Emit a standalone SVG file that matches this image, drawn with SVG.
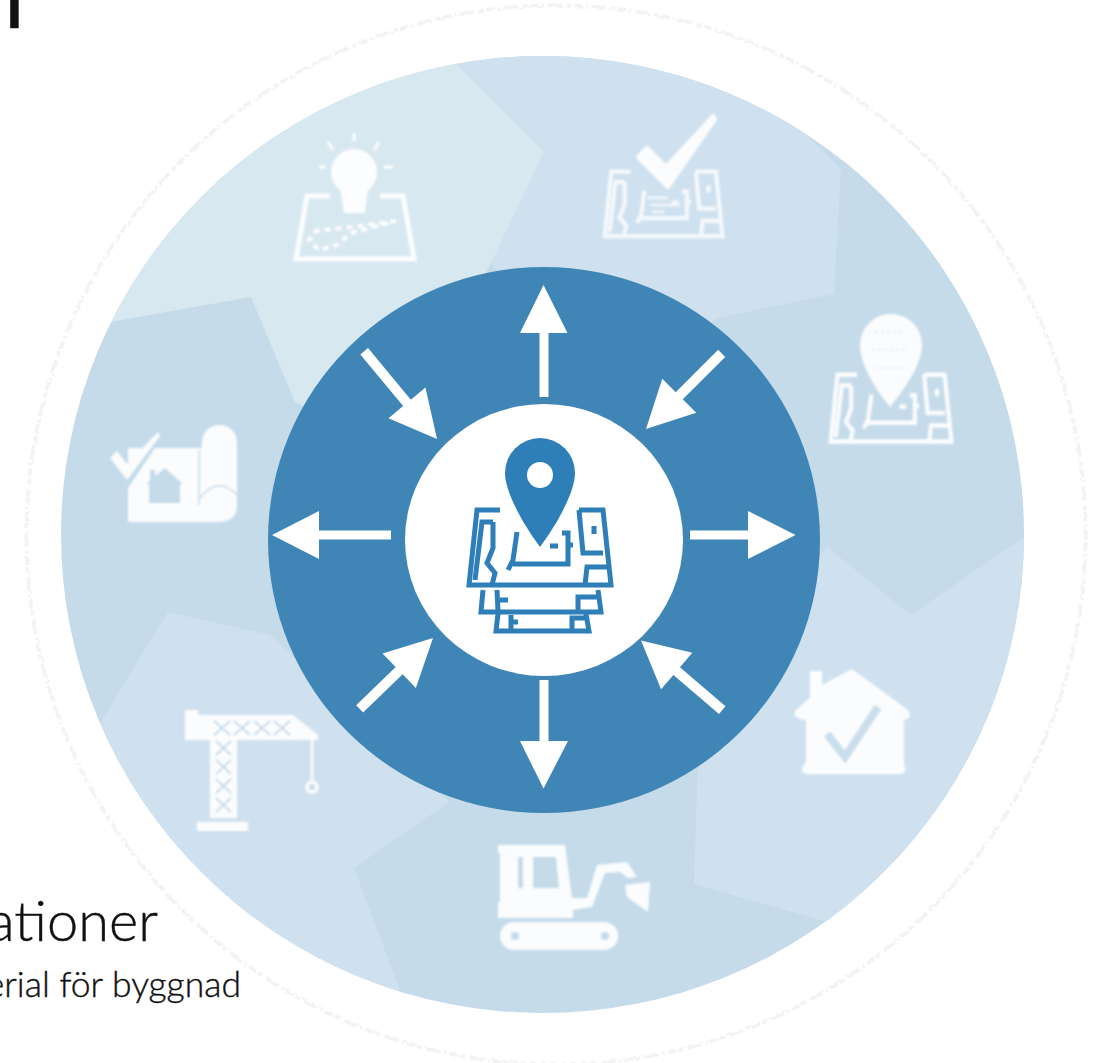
<svg xmlns="http://www.w3.org/2000/svg" width="1100" height="1063" viewBox="0 0 1100 1063">
<style>
.w{fill:#fff}
.ws{fill:none;stroke:#fff;stroke-width:5;stroke-linejoin:miter}
.plan{fill:none;stroke:currentColor;stroke-width:5}
.ar{fill:#fff}
.t{font-family:"Lato","Noto Sans","Liberation Sans",sans-serif;fill:#111;stroke:#111;stroke-width:.4}
.lat{stroke:#c4dbea;stroke-width:2;fill:none}
.sep{fill:none;stroke:#c5dbea;stroke-width:1.5}
.soft{filter:url(#soft);opacity:.93}
</style>
<defs>
<filter id="soft" x="-5%" y="-5%" width="110%" height="110%"><feGaussianBlur stdDeviation=".9"/></filter>
<filter id="softer" x="-5%" y="-5%" width="110%" height="110%"><feGaussianBlur stdDeviation=".4"/></filter>
<clipPath id="disc"><ellipse cx="542.5" cy="534.5" rx="481.500" ry="478.500"/></clipPath>
<g id="plan" class="plan">
<path d="M33 2H10L2 77H144L136 2H112"/>
<path d="M26 14H15L8 72M26 14V40L20 55L28 65L25 77"/>
<path d="M50 24L46 52L41 62M46 56H101V25H95"/>
<path d="M112 2L116 45H136M118 77L120 59H140M83 38H91M101 37H106M127 18V26"/>
</g>
</defs>
<rect width="1100" height="1063" fill="#fff"/>
<g id="outer-ring" fill="none" stroke="#f3f3f0">
<circle cx="556" cy="535" r="530" stroke-width="3" stroke-dasharray="5 2 9 3 2 4 14 5"/>
<circle cx="556" cy="535" r="528" stroke-width="1.5" stroke-dasharray="3 6 7 4"/>
</g>
<g id="wheel" filter="url(#softer)">
<ellipse cx="542.5" cy="534.5" rx="481.500" ry="478.500" fill="#c5dbea"/>
<g clip-path="url(#disc)">
<polygon fill="#cfe1ef" points="440,40 456,64 544,152 491,263 600,400 718,318 834,294 841,169 700,30"/>
<polygon fill="#d8e8f1" points="456,64 544,152 491,263 400,450 295,402 251,297 110,322 30,300 200,30 440,40"/>
<polygon fill="#cfe1ef" points="168,612 270,635 449,802 354,868 400,990 300,1025 40,800 102,720"/>
<polygon fill="#cfe1ef" points="827,547 780,600 700,700 694,884 824,921 1040,1015 1040,528 1024,537 911,615"/>
</g>
</g>
<g id="hub">
<ellipse cx="544" cy="540" rx="276" ry="273" fill="#3f85b6"/>
<ellipse cx="544" cy="540" rx="139" ry="136" fill="#fff"/>
</g>
<g id="connectors" filter="url(#softer)">
<path class="ar" d="M543.500 285L567.500 333H548.500V397H539.500V333H520Z"/>
<path class="ar" d="M272 535L319 511V530.500H391V539.500H319V559Z"/>
<path class="ar" d="M795.500 535L748 511V530.500H690V539.500H748V559Z"/>
<path class="ar" d="M543.500 788.500L568 741H548.500V680H539.500V741H520Z"/>
<path class="ar" transform="translate(437 439) rotate(50.300)" d="M0 0L-47 -24V-5H-114V5H-47V24Z"/>
<path class="ar" transform="translate(646 429) rotate(135)" d="M0 0L-47 -24V-5H-107V5H-47V24Z"/>
<path class="ar" transform="translate(433 638) rotate(-44)" d="M0 0L-47 -24V-5H-102V5H-47V24Z"/>
<path class="ar" transform="translate(641 640.500) rotate(220.600)" d="M0 0L-47 -24V-5H-107V5H-47V24Z"/>
</g>
<g id="center-icon" color="#2d7fb8" filter="url(#softer)">
<g transform="translate(467 508)"><use href="#plan"/></g>
<path class="plan" d="M483 590L481 612H601L598 590M498 614L496 631H589L586 614M578 610V597H597M572 630V618H587M497 590L498 611M500 600H508M511 615V631M511 622H518"/>
<path fill="#2d7fb8" d="M505 473A35 35 0 0 1 575 473C575 490 560 520 540 547C520 520 505 490 505 473Z"/>
<circle cx="540" cy="475" r="13" fill="#fff"/>
</g>
<g id="icon-idea" class="soft">
<path class="ws" d="M330 196H307L296 259H414L403 196H380"/>
<circle class="w" cx="354" cy="172" r="23"/>
<path class="w" d="M340 188H368L365 213H344Z"/>
<path d="M354 133V141M328 142L333 150M379 142L374 150M319 167H326M384 167H393" stroke="#fff" stroke-width="3" fill="none"/>
<path d="M396 221L351 227L316 231L309 240L319 250L337 245L351 233L396 221" stroke="#fff" stroke-width="4" stroke-dasharray="6 5" fill="none"/>
</g>
<g id="icon-check" color="#fff" class="soft">
<g transform="translate(603 170) scale(.83 .86)" opacity=".85"><use href="#plan"/></g>
<path d="M648 198H668M650 205H680M652 212H664" stroke="#fff" stroke-width="3" opacity=".7" fill="none"/>
<polygon class="w" stroke="#fff" stroke-width="4" stroke-linejoin="round" points="713,116 715,119 668,187 638,157 647,148 666,167"/>
</g>
<g id="icon-pin" color="#fff" class="soft">
<g transform="translate(829 373) scale(.85 .89)"><use href="#plan"/></g>
<path class="w" d="M860 345A31 31 0 0 1 922 345C922 362 908 385 890 407C872 385 860 362 860 345Z"/>
<path d="M875 332H905M872 350H908M876 368H904" stroke="#e8eef4" stroke-width="1.500" stroke-dasharray="3 3" fill="none"/>
</g>
<g id="icon-house-check" class="soft">
<path class="w" d="M810 671H822V685L852 669L908 710Q913 718 904 720V765Q908 773 900 774H806Q798 771 806 762V720Q790 718 796 710L810 698Z"/>
<path d="M827 734L845 757L878 707" fill="none" stroke="#c9deec" stroke-width="8"/>
</g>
<g id="icon-excavator" class="soft">
<path class="w" d="M498 845H565L572 898H587L597 865L627 862L637 877L628 878L620 872L605 873L592 907L573 910V918H498V902H500V853H498Z"/>
<path fill="#c5dbea" d="M518 857H523V888H518ZM533 857H556L559 888H533Z"/>
<rect class="w" x="500" y="922" width="118" height="28" rx="14"/>
<circle cx="515" cy="936" r="4" fill="#c5dbea"/><circle cx="605" cy="936" r="4" fill="#c5dbea"/>
<polygon class="w" points="625,885 650,882 648,912 627,897"/>
</g>
<g id="icon-crane" class="soft">
<path class="w" d="M185 710H198V715H293L318 735V740H237V818H210V740H185Z"/>
<rect class="w" x="197" y="822" width="51" height="9"/>
<path class="lat" d="M214 721L230 735M230 721L214 735M234 721L250 735M250 721L234 735M254 721L270 735M270 721L254 735M274 721L290 735M290 721L274 735M216 741L231 755M231 741L216 755M216 760L231 774M231 760L216 774M216 779L231 793M231 779L216 793M216 798L231 812M231 798L216 812"/>
<path d="M312 740V780" stroke="#fff" stroke-width="2.500"/>
<circle cx="312" cy="787" r="5" fill="none" stroke="#fff" stroke-width="3.500"/>
</g>
<g id="icon-scroll" class="soft">
<path class="w" d="M128 448H202V442A17.500 17 0 0 1 237 442V505Q237 522 218 522H128Z"/>
<path class="sep" d="M199 450V505M200 498Q218 475 237 495"/>
<polygon points="158,432 163,436 128,488 106,462 116,452 127,466" fill="#c5dbea"/>
<polygon class="w" points="158,432 160,436 127,480 110,458 117,451 127,464"/>
<path fill="#c5dbea" d="M165 468L183 484H180V503H149V484H147L150 480V470H155V476Z"/>
</g>
<text class="t" x="14.500" y="28" font-size="60" text-anchor="middle" font-weight="700">I</text>
<text class="t" x="158" y="941" font-size="56" text-anchor="end" font-weight="300">ationer</text>
<text class="t" x="241" y="997" font-size="35.500" text-anchor="end" font-weight="300">erial för byggnad</text>
</svg>
